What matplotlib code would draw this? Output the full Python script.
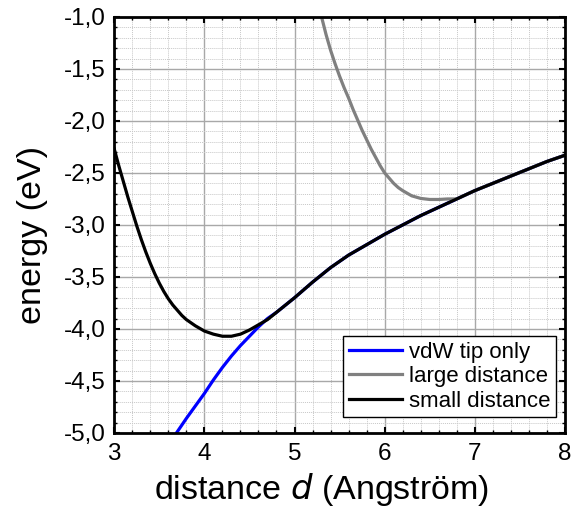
import matplotlib
matplotlib.use("Agg")
import matplotlib.pyplot as plt
from matplotlib.ticker import MultipleLocator, FuncFormatter

plt.rcParams['font.family'] = ['Liberation Sans', 'DejaVu Sans']

# values
x_small = [3.0, 3.05, 3.1, 3.15, 3.2, 3.25, 3.3, 3.35, 3.4, 3.45, 3.5, 3.55, 3.6,
           3.65, 3.7, 3.75, 3.8, 3.9, 4.0, 4.1, 4.2, 4.3, 4.4, 4.5, 4.6, 4.7,
           4.8, 4.9, 5.0, 5.2, 5.4, 5.6, 5.8, 6.0, 6.2, 6.4, 6.6, 6.8, 7.0, 7.2,
           7.4, 7.6, 7.8, 8.0]
e_small = [-2.27, -2.43, -2.58, -2.73, -2.87, -3.01, -3.14, -3.26, -3.37, -3.47,
           -3.56, -3.64, -3.71, -3.77, -3.82, -3.87, -3.91, -3.97, -4.02, -4.05,
           -4.07, -4.07, -4.05, -4.01, -3.96, -3.91, -3.84, -3.77, -3.70, -3.55,
           -3.41, -3.29, -3.19, -3.09, -3.00, -2.91, -2.83, -2.75, -2.67, -2.60,
           -2.53, -2.46, -2.39, -2.33]

x_vdw = [3.69, 3.8, 3.9, 4.0, 4.1, 4.2, 4.3, 4.4, 4.5, 4.6, 4.7, 4.8, 4.9, 5.0,
         5.2, 5.4, 5.6, 5.8, 6.0, 6.2, 6.4, 6.6, 6.8, 7.0, 7.2, 7.4, 7.6, 7.8, 8.0]
e_vdw = [-5.0, -4.86, -4.74, -4.62, -4.49, -4.37, -4.26, -4.16, -4.07, -3.98,
         -3.90, -3.84, -3.77, -3.70, -3.55, -3.41, -3.29, -3.19, -3.09, -3.00,
         -2.91, -2.83, -2.75, -2.67, -2.60, -2.53, -2.46, -2.39, -2.33]

x_large = [5.28, 5.3, 5.35, 5.4, 5.45, 5.5, 5.55, 5.6, 5.65, 5.7, 5.75, 5.8, 5.85,
           5.9, 5.95, 6.0, 6.05, 6.1, 6.15, 6.2, 6.3, 6.4, 6.5, 6.6, 6.7, 6.8,
           7.0, 7.2, 7.4, 7.6, 7.8, 8.0]
e_large = [-0.93, -1.0, -1.17, -1.32, -1.45, -1.57, -1.68, -1.78, -1.89, -1.99,
           -2.09, -2.18, -2.27, -2.35, -2.43, -2.50, -2.55, -2.60, -2.64, -2.67,
           -2.72, -2.745, -2.755, -2.755, -2.75, -2.75, -2.67, -2.60, -2.53,
           -2.46, -2.39, -2.33]

fig = plt.figure(figsize=(5.8, 5.13), dpi=100)
ax = fig.add_axes([0.197, 0.156, 0.777, 0.811])

ax.plot(x_vdw, e_vdw, color='#0000ff', lw=2.3, label='vdW tip only')
ax.plot(x_large, e_large, color='#808080', lw=2.3, label='large distance')
ax.plot(x_small, e_small, color='black', lw=2.3, label='small distance')

ax.set_xlim(3, 8)
ax.set_ylim(-5, -1)
ax.xaxis.set_major_locator(MultipleLocator(1))
ax.xaxis.set_minor_locator(MultipleLocator(0.2))
ax.yaxis.set_major_locator(MultipleLocator(0.5))
ax.yaxis.set_minor_locator(MultipleLocator(0.1))
ax.yaxis.set_major_formatter(FuncFormatter(lambda v, p: f'{v:.1f}'.replace('.', ',')))

ax.grid(which='major', color='#a8a8a8', lw=1.0)
ax.grid(which='minor', color='#c8c8c8', lw=0.7, ls=(0, (1, 1)))
ax.set_axisbelow(True)

ax.tick_params(which='both', direction='in', top=True, right=True, labelsize=17.5)
ax.tick_params(which='major', length=4, width=1.5)
ax.tick_params(which='minor', length=2, width=1)
ax.tick_params(axis='x', pad=7)
ax.tick_params(axis='y', pad=6)
for s in ax.spines.values():
    s.set_linewidth(2)

ax.set_xlabel('distance $d$ (Angström)', fontsize=24.5)
ax.set_ylabel('energy (eV)', fontsize=24.5)
# the labels sit a bit off-centre in the original
ax.xaxis.set_label_coords(0.46, -0.092)
ax.yaxis.set_label_coords(-0.148, 0.476)

leg = ax.legend(loc='lower right', bbox_to_anchor=(0.98, 0.038), borderaxespad=0,
                fontsize=16, frameon=True, fancybox=False, edgecolor='black',
                framealpha=1, handlelength=2.4, handletextpad=0.3,
                labelspacing=0.15, borderpad=0.25)
leg.get_frame().set_linewidth(1)

fig.savefig('out.png', dpi=100)
